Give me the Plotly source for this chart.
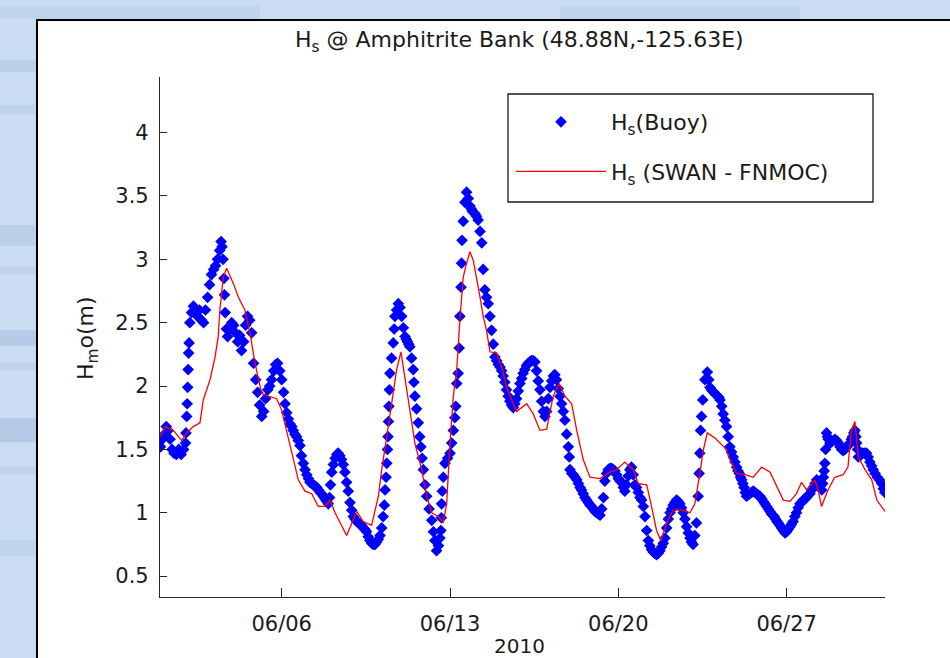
import pandas as pd
import plotly.graph_objects as go

# Buoy significant wave height: time in days after 2010-06-01 00:00 UTC, Hs in metres
buoy_days = [
    -0.04, 0.04, 0.12, 0.2, 0.28, 0.36, 0.44, 0.52, 0.62, 0.72, 0.82, 0.92, 1.0, 1.02, 1.05,
    1.07, 1.09, 1.11, 1.13, 1.15, 1.18, 1.25, 1.33, 1.42, 1.5, 1.58, 1.67, 1.75, 1.83, 1.92,
    2.0, 2.08, 2.17, 2.25, 2.33, 2.42, 2.48, 2.52, 2.56, 2.6, 2.62, 2.65, 2.7, 2.75, 2.83,
    2.92, 3.0, 3.08, 3.17, 3.25, 3.33, 3.42, 3.5, 3.58, 3.67, 3.75, 3.83, 3.92, 4.0, 4.08,
    4.17, 4.25, 4.33, 4.42, 4.5, 4.58, 4.67, 4.75, 4.83, 4.92, 5.0, 5.08, 5.14, 5.21, 5.28,
    5.35, 5.42, 5.48, 5.55, 5.62, 5.69, 5.76, 5.82, 5.9, 5.97, 6.04, 6.11, 6.18, 6.25, 6.32,
    6.39, 6.46, 6.53, 6.6, 6.66, 6.73, 6.8, 6.87, 6.94, 6.99, 7.03, 7.08, 7.15, 7.22, 7.29,
    7.35, 7.42, 7.49, 7.56, 7.63, 7.7, 7.77, 7.84, 7.91, 7.98, 8.05, 8.12, 8.19, 8.26, 8.33,
    8.39, 8.46, 8.53, 8.6, 8.67, 8.74, 8.81, 8.88, 8.95, 9.02, 9.09, 9.16, 9.22, 9.27, 9.3,
    9.34, 9.37, 9.4, 9.42, 9.44, 9.46, 9.48, 9.5, 9.57, 9.64, 9.68, 9.71, 9.78, 9.85, 9.92,
    9.99, 10.06, 10.13, 10.18, 10.23, 10.28, 10.33, 10.4, 10.47, 10.5, 10.54, 10.61, 10.68, 10.74, 10.79,
    10.84, 10.89, 10.96, 11.03, 11.13, 11.24, 11.31, 11.37, 11.44, 11.52, 11.58, 11.62, 11.64, 11.65, 11.68,
    11.72, 11.79, 11.9, 12.0, 12.07, 12.14, 12.2, 12.24, 12.28, 12.34, 12.38, 12.41, 12.46, 12.48, 12.5,
    12.55, 12.62, 12.69, 12.76, 12.83, 12.88, 12.93, 12.98, 13.04, 13.1, 13.17, 13.25, 13.32, 13.38, 13.45,
    13.52, 13.59, 13.66, 13.73, 13.8, 13.87, 13.94, 14.01, 14.08, 14.15, 14.21, 14.28, 14.35, 14.42, 14.49,
    14.56, 14.63, 14.7, 14.77, 14.84, 14.91, 14.98, 15.04, 15.11, 15.18, 15.25, 15.32, 15.39, 15.46, 15.53,
    15.6, 15.67, 15.74, 15.81, 15.88, 15.95, 16.02, 16.09, 16.16, 16.23, 16.3, 16.36, 16.43, 16.5, 16.57,
    16.64, 16.71, 16.78, 16.85, 16.92, 16.96, 16.99, 17.06, 17.13, 17.2, 17.27, 17.34, 17.41, 17.47, 17.54,
    17.61, 17.68, 17.75, 17.82, 17.89, 17.96, 18.03, 18.1, 18.17, 18.24, 18.31, 18.38, 18.44, 18.51, 18.58,
    18.65, 18.72, 18.79, 18.86, 18.93, 19.0, 19.07, 19.14, 19.21, 19.27, 19.34, 19.41, 19.48, 19.55, 19.62,
    19.69, 19.76, 19.83, 19.9, 19.97, 20.04, 20.11, 20.18, 20.25, 20.31, 20.38, 20.45, 20.52, 20.59, 20.66,
    20.73, 20.8, 20.87, 20.94, 21.01, 21.08, 21.15, 21.22, 21.28, 21.35, 21.42, 21.49, 21.56, 21.63, 21.7,
    21.77, 21.84, 21.91, 21.98, 22.04, 22.11, 22.18, 22.25, 22.32, 22.36, 22.39, 22.42, 22.46, 22.51, 22.6,
    22.7, 22.76, 22.81, 22.87, 22.92, 22.97, 23.02, 23.08, 23.13, 23.18, 23.23, 23.3, 23.36, 23.43, 23.5,
    23.57, 23.64, 23.71, 23.78, 23.85, 23.92, 23.98, 24.03, 24.08, 24.13, 24.18, 24.23, 24.28, 24.33, 24.4,
    24.47, 24.54, 24.61, 24.68, 24.75, 24.82, 24.89, 24.96, 25.03, 25.1, 25.17, 25.24, 25.31, 25.37, 25.43,
    25.48, 25.54, 25.6, 25.65, 25.72, 25.79, 25.86, 25.93, 26.0, 26.07, 26.14, 26.2, 26.27, 26.34, 26.41,
    26.48, 26.55, 26.62, 26.69, 26.76, 26.83, 26.9, 26.97, 27.04, 27.11, 27.18, 27.25, 27.32, 27.39, 27.46,
    27.5, 27.53, 27.56, 27.59, 27.62, 27.66, 27.7, 27.73, 27.8, 27.87, 27.94, 28.01, 28.08, 28.15, 28.22,
    28.29, 28.35, 28.42, 28.49, 28.56, 28.63, 28.69, 28.74, 28.79, 28.84, 28.88, 28.91, 28.95, 28.98, 29.06,
    29.15, 29.23, 29.32, 29.39, 29.46, 29.53, 29.6, 29.68, 29.77, 29.86, 29.95, 30.02, 30.08,
]
buoy_hs = [
    1.52, 1.58, 1.62, 1.68, 1.65, 1.58, 1.5, 1.47, 1.46, 1.5, 1.46, 1.5, 1.55, 1.63, 1.76,
    1.86, 1.99, 2.13, 2.26, 2.34, 2.5, 2.58, 2.63, 2.6, 2.55, 2.6, 2.52, 2.5, 2.6, 2.7,
    2.8, 2.88, 2.92, 2.95, 3.0, 3.07, 3.14, 3.1, 3.0, 2.85, 2.72, 2.58, 2.45, 2.39, 2.45,
    2.5, 2.48, 2.42, 2.35, 2.4, 2.28, 2.35, 2.48, 2.55, 2.52, 2.42, 2.18, 2.05, 1.95, 1.85,
    1.76, 1.8, 1.9, 1.97, 2.0, 2.05, 2.12, 2.17, 2.18, 2.12, 2.05, 1.95, 1.86, 1.79, 1.74,
    1.7, 1.68, 1.65, 1.62, 1.6, 1.57, 1.53, 1.45, 1.39, 1.34, 1.3, 1.27, 1.24, 1.23, 1.22,
    1.21, 1.2, 1.18, 1.16, 1.15, 1.13, 1.11, 1.09, 1.07, 1.12, 1.22, 1.32, 1.38, 1.43, 1.46,
    1.47, 1.45, 1.42, 1.38, 1.32, 1.24, 1.17, 1.08, 1.02, 0.97, 0.95, 0.93, 0.92, 0.91, 0.9,
    0.88, 0.87, 0.85, 0.81, 0.78, 0.76, 0.75, 0.75, 0.77, 0.79, 0.82, 0.88, 0.97, 1.06, 1.18,
    1.28, 1.39, 1.5, 1.6, 1.72, 1.84, 1.97, 2.1, 2.22, 2.34, 2.45, 2.55, 2.6, 2.65, 2.62,
    2.55, 2.46, 2.39, 2.37, 2.35, 2.33, 2.31, 2.22, 2.13, 2.03, 1.92, 1.82, 1.71, 1.6, 1.52,
    1.43, 1.34, 1.22, 1.13, 1.03, 0.94, 0.85, 0.78, 0.7, 0.74, 0.8, 0.86, 0.96, 1.07, 1.17,
    1.28, 1.39, 1.43, 1.47, 1.55, 1.65, 1.75, 1.84, 2.02, 2.1, 2.3, 2.55, 2.78, 2.97, 3.15,
    3.3, 3.45, 3.53, 3.48, 3.42, 3.4, 3.38, 3.37, 3.36, 3.34, 3.31, 3.22, 3.13, 2.92, 2.76,
    2.7, 2.65, 2.55, 2.44, 2.33, 2.23, 2.2, 2.17, 2.15, 2.12, 2.08, 2.03, 1.97, 1.92, 1.88,
    1.85, 1.83, 1.86, 1.9, 1.96, 2.02, 2.06, 2.1, 2.13, 2.16, 2.18, 2.19, 2.2, 2.2, 2.19,
    2.12, 2.04, 1.97, 1.88, 1.8, 1.76, 1.8, 1.9, 1.99, 2.04, 2.08, 2.09, 2.05, 1.98, 1.92,
    1.86, 1.8, 1.73, 1.62, 1.52, 1.44, 1.34, 1.31, 1.3, 1.28, 1.26, 1.23, 1.2, 1.18, 1.15,
    1.12, 1.1, 1.08, 1.06, 1.05, 1.03, 1.01, 1.0, 0.99, 0.98, 1.03, 1.12, 1.25, 1.31, 1.34,
    1.35, 1.35, 1.34, 1.33, 1.3, 1.27, 1.25, 1.24, 1.2, 1.17, 1.22, 1.29, 1.34, 1.36, 1.3,
    1.22, 1.2, 1.16, 1.12, 1.1, 1.05, 0.97, 0.86, 0.78, 0.74, 0.71, 0.69, 0.68, 0.67, 0.68,
    0.7, 0.73, 0.76, 0.8, 0.88, 0.95, 1.0, 1.03, 1.06, 1.08, 1.1, 1.09, 1.07, 1.04, 1.0,
    0.95, 0.89, 0.84, 0.8, 0.77, 0.75, 0.82, 0.92, 1.13, 1.31, 1.47, 1.65, 1.76, 1.89, 2.05,
    2.11, 2.05, 1.99, 1.97, 1.96, 1.95, 1.94, 1.93, 1.92, 1.91, 1.89, 1.84, 1.78, 1.73, 1.68,
    1.6, 1.52, 1.48, 1.44, 1.4, 1.36, 1.33, 1.31, 1.28, 1.26, 1.23, 1.2, 1.16, 1.13, 1.14,
    1.15, 1.16, 1.17, 1.16, 1.15, 1.14, 1.13, 1.11, 1.09, 1.07, 1.05, 1.03, 1.01, 0.99, 0.98,
    0.97, 0.95, 0.93, 0.92, 0.9, 0.88, 0.86, 0.84, 0.85, 0.87, 0.89, 0.91, 0.93, 0.97, 1.0,
    1.04, 1.07, 1.08, 1.1, 1.11, 1.12, 1.14, 1.15, 1.18, 1.2, 1.23, 1.26, 1.24, 1.21, 1.18,
    1.23, 1.28, 1.33, 1.39, 1.5, 1.63, 1.6, 1.58, 1.55, 1.56, 1.57, 1.58, 1.57, 1.55, 1.52,
    1.5, 1.49, 1.5, 1.52, 1.53, 1.55, 1.58, 1.6, 1.63, 1.65, 1.6, 1.55, 1.5, 1.44, 1.45,
    1.47, 1.47, 1.47, 1.44, 1.4, 1.37, 1.34, 1.31, 1.28, 1.26, 1.23, 1.19, 1.16,
]

# SWAN model (FNMOC forcing) hindcast at the same site
swan_days = [
    -0.04, 0.15, 0.49, 0.84, 1.05, 1.32, 1.6, 1.74, 2.02, 2.23, 2.36, 2.43, 2.57, 2.71, 2.99,
    3.2, 3.47, 3.68, 3.89, 4.17, 4.44, 4.79, 5.0, 5.21, 5.42, 5.69, 5.97, 6.25, 6.52, 6.8,
    7.01, 7.22, 7.7, 8.12, 8.39, 8.74, 9.02, 9.16, 9.37, 9.57, 9.78, 9.96, 10.13, 10.33, 10.54,
    10.82, 11.03, 11.24, 11.51, 11.72, 11.86, 12.0, 12.14, 12.28, 12.41, 12.55, 12.69, 12.83, 12.97, 13.11,
    13.25, 13.38, 13.52, 13.66, 13.94, 14.15, 14.36, 14.56, 14.77, 15.19, 15.46, 15.74, 16.02, 16.29, 16.54,
    16.78, 17.06, 17.27, 17.54, 17.82, 18.24, 18.65, 18.93, 19.27, 19.62, 19.83, 20.18, 20.38, 20.59, 20.77,
    21.01, 21.28, 21.63, 21.98, 22.18, 22.39, 22.53, 22.7, 23.02, 23.44, 23.64, 23.92, 24.27, 24.61, 24.96,
    25.31, 25.58, 25.86, 26.14, 26.41, 26.62, 26.83, 27.17, 27.31, 27.45, 27.72, 28.0, 28.35, 28.55, 28.69,
    28.84, 28.98, 29.26, 29.54, 29.75, 30.09,
]
swan_hs = [
    1.6, 1.68, 1.65, 1.57, 1.63, 1.68, 1.71, 1.89, 2.05, 2.23, 2.39, 2.6, 2.86, 2.93, 2.81,
    2.7, 2.6, 2.42, 2.18, 1.94, 1.92, 1.9, 1.81, 1.65, 1.47, 1.26, 1.17, 1.15, 1.05, 1.05,
    1.1, 1.0, 0.82, 1.01, 0.93, 0.9, 1.13, 1.34, 1.6, 1.86, 2.13, 2.27, 2.07, 1.81, 1.55,
    1.34, 1.13, 1.0, 0.97, 0.92, 1.07, 1.55, 1.92, 2.13, 2.52, 2.86, 2.97, 3.06, 2.99, 2.86,
    2.7, 2.55, 2.44, 2.27, 2.26, 2.15, 1.99, 1.89, 1.8, 1.86, 1.78, 1.65, 1.66, 1.92, 2.02,
    1.92, 1.86, 1.65, 1.42, 1.28, 1.27, 1.32, 1.34, 1.4, 1.34, 1.23, 1.22, 1.05, 0.86, 0.78,
    0.92, 1.02, 1.02, 1.0, 1.07, 1.31, 1.49, 1.63, 1.59, 1.51, 1.42, 1.31, 1.3, 1.28, 1.36,
    1.32, 1.21, 1.1, 1.09, 1.15, 1.24, 1.18, 1.26, 1.18, 1.05, 1.18, 1.28, 1.3, 1.36, 1.65,
    1.72, 1.44, 1.34, 1.26, 1.1, 1.01,
]

date_ticks = ["2010-06-06", "2010-06-13", "2010-06-20", "2010-06-27"]
date_labels = ["06/06", "06/13", "06/20", "06/27"]
hs_ticks = [0.5, 1, 1.5, 2, 2.5, 3, 3.5, 4]
hs_labels = ["0.5", "1", "1.5", "2", "2.5", "3", "3.5", "4"]

origin = pd.Timestamp("2010-06-01 00:00")
buoy_time = origin + pd.to_timedelta(buoy_days, unit="D")
swan_time = origin + pd.to_timedelta(swan_days, unit="D")

FONT = "DejaVu Sans"
INK = "#1a1a1a"

fig = go.Figure()
fig.add_trace(go.Scatter(
    x=buoy_time, y=buoy_hs, mode="markers",
    name="H<sub>s</sub>(Buoy)",
    marker=dict(symbol="diamond", size=9, color="#0000ff", line=dict(width=0)),
    legendgroup="a",
))
fig.add_trace(go.Scatter(
    x=swan_time, y=swan_hs, mode="lines",
    name="H<sub>s</sub> (SWAN - FNMOC)",
    line=dict(color="#ff0000", width=1.3),
    legendgroup="b",
))

# helpers: figure pixels -> paper coordinates of the plot area
def px_x(p):
    return (p - 160) / 725.0

def px_y(p):
    return (597 - p) / 520.0

shapes = []
# soft horizontal streaks in the blue backdrop
for top, bot, col in [
    (60, 72, "rgba(150,178,210,0.3)"), (105, 114, "rgba(160,186,216,0.25)"),
    (225, 246, "rgba(150,178,210,0.3)"), (266, 274, "rgba(160,186,216,0.25)"),
    (330, 346, "rgba(145,172,205,0.35)"), (362, 370, "rgba(160,186,216,0.25)"),
    (418, 442, "rgba(140,168,202,0.35)"), (466, 474, "rgba(160,186,216,0.25)"),
    (540, 556, "rgba(160,186,216,0.25)"),
]:
    shapes.append(dict(type="rect", xref="paper", yref="paper", layer="below",
                       x0=px_x(-5), x1=px_x(36), y0=px_y(bot), y1=px_y(top),
                       fillcolor=col, line=dict(width=0)))
for left, right, col in [(0, 260, "rgba(175,198,228,0.35)"), (560, 800, "rgba(175,198,228,0.35)")]:
    shapes.append(dict(type="rect", xref="paper", yref="paper", layer="below",
                       x0=px_x(left), x1=px_x(right), y0=px_y(19), y1=px_y(6),
                       fillcolor=col, line=dict(width=0)))
# white figure sheet with a black frame
shapes.append(dict(type="rect", xref="paper", yref="paper", layer="below",
                   x0=px_x(37), x1=px_x(970), y0=px_y(680), y1=px_y(20),
                   fillcolor="white", line=dict(color="black", width=2)))
# legend frame
shapes.append(dict(type="rect", xref="paper", yref="paper", layer="above",
                   x0=px_x(508), x1=px_x(873), y0=px_y(202), y1=px_y(94),
                   fillcolor="rgba(0,0,0,0)", line=dict(color="#1a1a1a", width=1.3)))

annotations = [
    dict(text="H<sub>s</sub> @ Amphitrite Bank (48.88N,-125.63E)", xref="paper", yref="paper",
         x=px_x(519), y=px_y(41), xanchor="center", yanchor="middle", showarrow=False,
         font=dict(family=FONT, size=22, color=INK)),
    dict(text="H<sub>m</sub>o(m)", xref="paper", yref="paper", textangle=-90,
         x=px_x(87), y=px_y(338), xanchor="center", yanchor="middle", showarrow=False,
         font=dict(family=FONT, size=22, color=INK)),
    dict(text="2010", xref="paper", yref="paper",
         x=px_x(519), y=px_y(660), xanchor="center", yanchor="bottom", showarrow=False,
         font=dict(family=FONT, size=20, color=INK)),
]

fig.update_layout(
    width=950, height=658,
    margin=dict(l=160, r=65, t=77, b=61),
    paper_bgcolor="#cadcf2",
    plot_bgcolor="white",
    shapes=shapes,
    annotations=annotations,
    showlegend=True,
    legend=dict(
        x=px_x(511), y=px_y(101), xanchor="left", yanchor="top",
        bgcolor="rgba(255,255,255,0)", borderwidth=0,
        font=dict(family=FONT, size=22, color=INK),
        itemwidth=90, tracegroupgap=18, itemsizing="trace",
    ),
    xaxis=dict(
        type="date",
        range=["2010-05-31 22:33", "2010-07-01 02:10"],
        tickvals=date_ticks, ticktext=date_labels,
        ticks="inside", ticklen=9, tickwidth=1, tickcolor="#262626",
        showline=True, linecolor="#262626", linewidth=1.2,
        showgrid=False, zeroline=False,
        tickfont=dict(family=FONT, size=21, color=INK),
        ticklabelstandoff=8,
    ),
    yaxis=dict(
        range=[0.335, 4.439],
        tickvals=hs_ticks, ticktext=hs_labels,
        ticks="inside", ticklen=7, tickwidth=1, tickcolor="#262626",
        showline=True, linecolor="#262626", linewidth=1.2,
        showgrid=False, zeroline=False,
        tickfont=dict(family=FONT, size=21, color=INK),
        ticklabelstandoff=6,
    ),
)

fig.write_html("out.html")
